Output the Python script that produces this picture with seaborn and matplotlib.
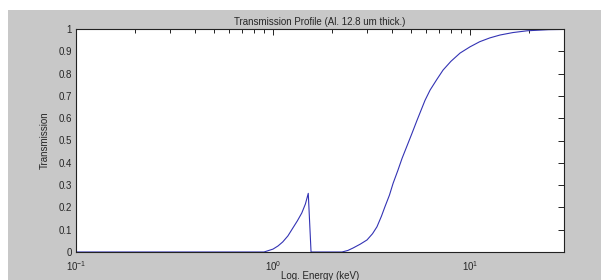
import matplotlib
matplotlib.use('AGG')
import matplotlib.pyplot as plt
import matplotlib.ticker as mticker
from matplotlib.patches import Rectangle
import seaborn as sns
import pandas as pd

# energy (keV) and transmission
energy = [0.1, 0.5, 0.9, 1.0, 1.06, 1.12, 1.19, 1.26, 1.33, 1.40, 1.46, 1.51, 1.56,
          2.0, 2.24, 2.4, 2.55, 2.77, 3.0, 3.2, 3.37, 3.55, 3.70, 3.9, 4.07, 4.3,
          4.52, 4.8, 5.08, 5.38, 5.91, 6.27, 6.8, 7.3, 8.0, 8.9, 10.0, 11.2, 12.6,
          14.2, 16.5, 19.5, 25.0, 30.0]
transmission = [0.0, 0.0, 0.0, 0.013, 0.027, 0.045, 0.072, 0.107, 0.14, 0.175, 0.215,
                0.263, 0.0, 0.0, 0.0, 0.007, 0.018, 0.035, 0.054, 0.082, 0.113, 0.16,
                0.203, 0.255, 0.308, 0.365, 0.42, 0.478, 0.533, 0.59, 0.68, 0.726,
                0.775, 0.816, 0.855, 0.892, 0.92, 0.943, 0.96, 0.973, 0.984, 0.992,
                0.997, 0.998]
yticks = [0, 0.1, 0.2, 0.3, 0.4, 0.5, 0.6, 0.7, 0.8, 0.9, 1]
ytick_labels = ['0', '0.1', '0.2', '0.3', '0.4', '0.5', '0.6', '0.7', '0.8', '0.9', '1']

df = pd.DataFrame({'energy': energy, 'transmission': transmission})

sns.set_style('white')
plt.rcParams['font.family'] = ['Liberation Sans', 'DejaVu Sans']
plt.rcParams['mathtext.fontset'] = 'custom'
plt.rcParams['mathtext.rm'] = 'Liberation Sans'
plt.rcParams['mathtext.it'] = 'Liberation Sans'

fig = plt.figure(figsize=(6.01, 2.80), dpi=100, facecolor='white')
# gray window area, white strip on top and on the left
fig.patches.append(Rectangle((8 / 601, 0), 593 / 601, 270 / 280, transform=fig.transFigure,
                             facecolor='#c8c8c8', edgecolor='none', zorder=-10))
ax = fig.add_axes([76 / 601, 28 / 280, 488 / 601, 223 / 280])
ax.set_facecolor('white')

sns.lineplot(data=df, x='energy', y='transmission', ax=ax, color='#3333b4',
             linewidth=0.8, sort=False, estimator=None)

ax.set_xscale('log')
ax.set_xlim(0.1, 30)
ax.set_ylim(0, 1)
ax.set_yticks(yticks)
ax.set_yticklabels(ytick_labels)
ax.xaxis.set_major_locator(mticker.LogLocator(base=10, numticks=10))
ax.xaxis.set_minor_locator(mticker.LogLocator(base=10, subs=range(2, 10), numticks=10))
ax.xaxis.set_minor_formatter(mticker.NullFormatter())

ax.tick_params(which='both', direction='in', top=True, right=True, labelsize=7,
               color='#222222', width=0.7)
ax.tick_params(axis='y', pad=3)
ax.tick_params(axis='x', pad=5)
ax.tick_params(which='major', length=4)
ax.tick_params(which='minor', length=3)
for side in ax.spines:
    ax.spines[side].set_color('#222222')
    ax.spines[side].set_linewidth(0.8)

ax.set_title('Transmission Profile (Al. 12.8 um thick.)', fontsize=7, pad=3)
ax.set_xlabel('Log. Energy (keV)', fontsize=7, labelpad=-1.5)
ax.set_ylabel('Transmission', fontsize=7, labelpad=6)

plt.savefig('out.png', dpi=100, facecolor='white')
